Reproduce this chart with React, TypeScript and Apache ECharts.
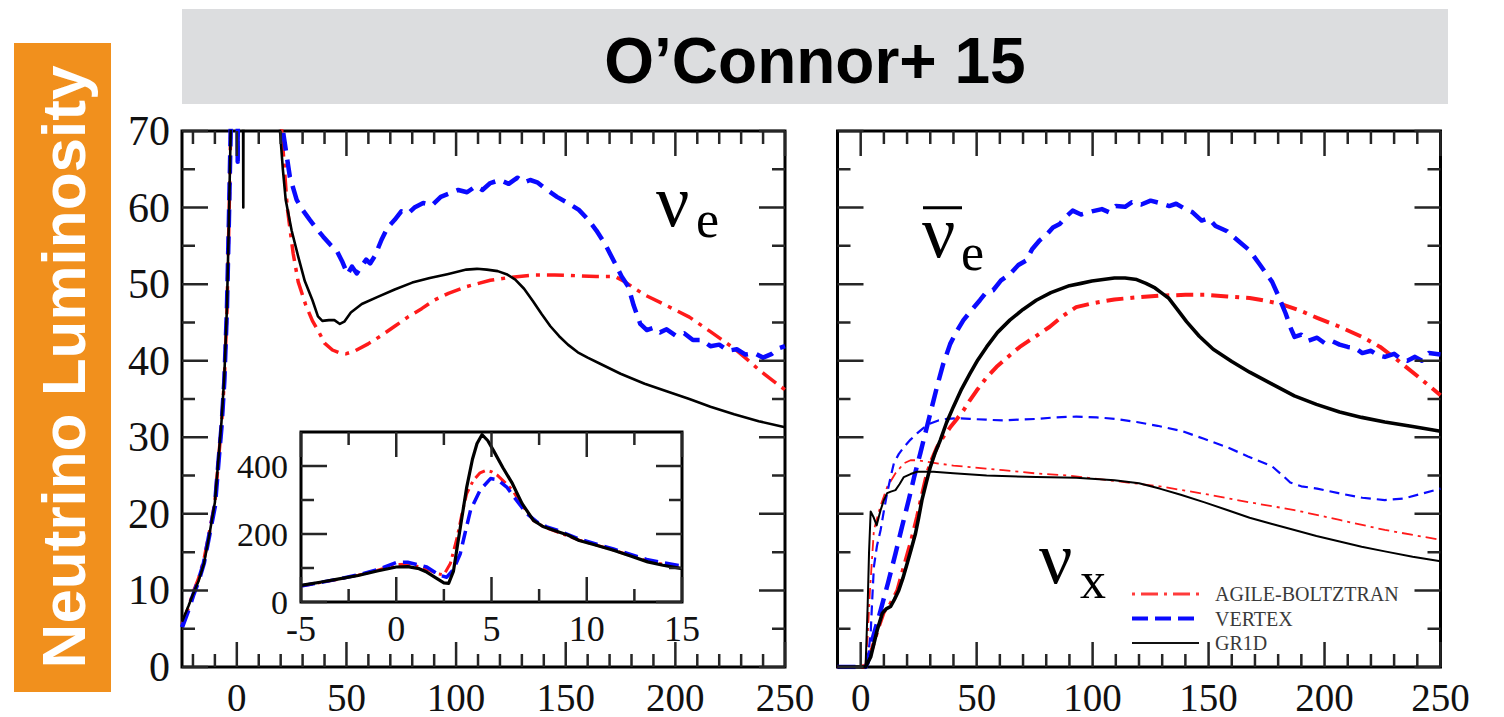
import React, { useEffect, useRef } from "react";
import * as echarts from "echarts";

const W = 1504;
const H = 717;

// ---------- tick labels ----------
const mainXLabels = [0, 50, 100, 150, 200, 250];
const mainYLabels = [0, 10, 20, 30, 40, 50, 60, 70];
const insetXLabels = [-5, 0, 5, 10, 15];
const insetYLabels = [0, 200, 400];
const insetYMinor = [100, 300];
const insetXMinor = [-2.5, 2.5, 7.5, 12.5];

const modelNames = ["AGILE-BOLTZTRAN", "VERTEX", "GR1D"];

// ---------- left panel: nu_e ----------
const nueGR1D = [[-25,5.9],[-22,8],[-20,9.5],[-17.5,11.2],[-15,13.5],[-12.5,17.3],[-10,21.5],[-8.3,27.5],[-7,32],[-5.7,38],[-4.5,47],[-3.6,58.5],[-2.8,70],[-2,100],[-1,150],[1.5,150],[2.6,100],[2.95,60],[3.2,100],[4,150],[17,150],[19,78],[19.7,70],[21,65],[22.3,61],[25,57],[28,53.6],[31,50.4],[34.5,47.9],[37,45.8],[39,45.2],[42,45.3],[44.5,45.3],[47,44.8],[49,45.1],[52,46.3],[57,47.4],[64,48.3],[72,49.3],[80,50.2],[88,50.8],[96,51.3],[104.7,51.9],[109.5,52],[114,51.9],[119,51.7],[123,51.3],[127,50.6],[131,49.4],[135,47.8],[139,46.1],[143,44.5],[147,43.2],[151,42.1],[155.5,41.1],[160,40.4],[165.7,39.6],[175,38.3],[186,37],[196,36],[206.4,35],[216,34],[226.8,33],[238,32.1],[250,31.3]];
const nueAGILE = [[-25,5.6],[-22,7.8],[-20,9.7],[-17.5,11.5],[-15,14],[-12.5,17.6],[-10,21.5],[-8.3,27.3],[-7,31.5],[-5.7,37.5],[-4.5,46.5],[-3.6,58],[-2.8,70],[-2,100],[-0.5,150],[0.2,100],[0.5,66.5],[0.8,100],[1.5,150],[17,150],[19.5,76],[20.5,69.9],[23,60],[25.7,54],[28,50.3],[31.4,47.3],[34.5,45.2],[37.5,43.7],[40,42.3],[43.6,41.4],[47,41],[49.7,40.9],[54,41.3],[59.9,42.2],[66,43.3],[72,44.5],[78,45.7],[84.3,46.8],[90,47.9],[96.5,48.8],[105,49.7],[115.6,50.5],[125,50.9],[136,51.2],[145,51.2],[155.5,51.1],[164,51],[172.5,51],[176.5,50.4],[180.6,49.6],[186,48.6],[196,47.2],[206.4,45.7],[216,43.8],[226.8,41.6],[233,40.1],[239,38.6],[244,37.5],[250,36.2]];
const nueVERTEX = [[-25,5.2],[-22,7.5],[-20,9.3],[-17.5,11.2],[-15,13.6],[-12.5,17.3],[-10,21],[-8.3,27],[-7,31.3],[-5.7,37.3],[-4.5,46.8],[-3.6,58.5],[-2.8,70],[-2,100],[-0.5,150],[0.1,100],[0.4,66],[0.7,100],[1.5,150],[18,150],[20.5,78],[21.2,69.7],[24.2,64],[27.3,61],[30,59.7],[33.3,58.4],[36.5,57.2],[39.4,56.2],[42.5,55.2],[45.5,54.4],[48,53],[50.5,51.3],[52.5,52.3],[54.7,51.4],[57,52.4],[59,53.2],[60.8,52.7],[63,53.7],[66,55.8],[68.8,57.4],[72,58.4],[75,59.5],[78,59.2],[81,60],[85,60.6],[89,60.3],[93,61.4],[97.4,61.9],[101,62.3],[105,62],[109,62.8],[112,62.3],[115.6,63.2],[120,63.6],[124,63.1],[128,63.9],[131,63.3],[133.8,63.6],[137,63.3],[141,62.4],[146,61.4],[151,60.6],[156,59.7],[160,58.5],[164,57],[168,55.2],[172.5,52.7],[175.5,51],[178.5,49.7],[181,47.2],[184,44.8],[187,44],[190,44.3],[193,43.7],[196,44.1],[200,43.3],[204,43.6],[208,42.7],[212,42.7],[216,41.9],[220,42.1],[224,41.3],[228,41.5],[232,40.8],[236,41],[240,40.4],[244,40.9],[247,41.6],[250,41.9]];

// ---------- right panel: anti nu_e (thick) ----------
const anueGR1D = [[-10,0],[0.7,0],[2.1,0],[4.3,1.3],[7.1,4.8],[9.3,7],[11,7.6],[12.9,7.9],[14.5,8.8],[16.4,10],[18.2,11.6],[20,13.5],[21.8,15.4],[23.6,17.4],[25,19.5],[26.4,21.8],[28.2,24],[30,26.1],[32,27.9],[34.3,29.6],[37,31.9],[40,34],[43.5,36.3],[47.1,38.3],[50.5,40.1],[54.3,41.8],[59,43.7],[64.3,45.3],[70,46.7],[75.7,47.9],[82,48.9],[90,49.8],[95,50.1],[99.7,50.4],[104.5,50.6],[109.4,50.8],[114,50.8],[119,50.6],[123,50.1],[126.9,49.5],[130,48.8],[132.7,48.2],[136.5,46.7],[140.5,45.1],[146,43.2],[152,41.5],[160,39.9],[167.7,38.5],[177,37],[187,35.4],[196.5,34.3],[206.5,33.3],[216,32.6],[226,32],[238,31.4],[250,30.8]];
const anueAGILE = [[-10,0],[1,0],[3,0.8],[5,2.5],[7.5,5],[10,7.2],[12.9,8.3],[15.8,10],[18.6,13.1],[21.5,16.2],[24.3,19.6],[26.5,22.6],[28.6,25.3],[30.8,27.2],[32.9,28.7],[35.7,30.1],[38.6,31.3],[41.5,32.4],[44.3,33.5],[47,34.8],[50,36.1],[54,37.7],[58.6,39.2],[63.5,40.5],[68.6,41.8],[75,43.1],[81.4,44.4],[87,45.8],[92.9,47],[100,47.5],[109.4,48],[120,48.3],[128.9,48.5],[140,48.6],[148.3,48.6],[158,48.4],[167.7,48.2],[175,47.8],[181.3,47.4],[189,46.6],[196.8,45.6],[206,44.5],[216.3,43.1],[224,41.8],[231.8,40],[240,38],[250,35.5]];
const anueVERTEX = [[-10,0],[2,0],[2.9,0.5],[5,3.5],[8.6,7.4],[11.8,11],[15,14.8],[17.8,18.3],[20.7,21.8],[23.2,25],[25.7,27.9],[28,30.7],[30,33.1],[32.9,36.6],[35.5,39.5],[38.6,42.2],[41.5,43.9],[44.3,45.3],[47.5,46.5],[51.4,47.9],[54,48.9],[57.1,49.2],[60.5,50.5],[64.3,51.3],[68,52.5],[71.4,53.1],[74,54.6],[77.1,55.7],[80,56.4],[82.9,57.4],[86,57.9],[88.5,58.8],[91.4,59.6],[95,59.1],[99.7,59.5],[104,59.8],[107,59.4],[110,60.2],[114,60.1],[117,60.7],[121,60.4],[125,60.9],[128.9,60.6],[133,60.2],[136,60.5],[140,59.8],[143,59.4],[147,58.3],[150,58.6],[153,57.6],[158,56.9],[163,55.6],[167.7,54.4],[172,52.6],[177.4,50.3],[180.5,48.2],[183.2,46.2],[185.5,44.2],[187.1,43.1],[190,43.4],[193,42.6],[196.8,43],[200,42.3],[203,42.6],[206.5,42.1],[210,41.8],[213,41.7],[216.3,41],[220,41.3],[223,40.7],[226,40.5],[230,40.9],[233,40.2],[235.7,40],[239,40.5],[242,40],[245,41],[250,40.8]];

// ---------- right panel: nu_x (thin) ----------
const nuxGR1D = [[-10,0],[2.1,0],[3,8],[3.6,15],[4.3,20.3],[5.5,19.6],[6.9,18.5],[7.8,19.6],[8.6,20.5],[10,21.8],[11.4,22.7],[13,22.9],[15,23.1],[16.8,23.9],[18.6,24.8],[21.5,25.2],[24.3,25.5],[31.4,25.5],[40,25.3],[54.3,25],[75.7,24.8],[92.9,24.7],[109.4,24.4],[120,24],[128.9,23.3],[138,22.5],[148.3,21.5],[158,20.5],[167.7,19.5],[177,18.7],[187,17.9],[196.5,17.1],[206.5,16.4],[216,15.7],[226,15.1],[238,14.4],[250,13.8]];
const nuxAGILE = [[-10,0],[2,0],[3,4],[4,10],[5.7,17.9],[8.5,21],[11.4,23.5],[15,25.3],[18.6,26.6],[21.5,27],[24.3,27],[28.5,26.8],[32.9,26.6],[40,26.3],[47.1,26.1],[54,25.9],[61.4,25.7],[75,25.3],[90,25],[109.4,24.3],[128.9,23.6],[148.3,22.6],[167.7,21.5],[187,20.5],[206.5,19.2],[226,17.9],[250,16.6]];
const nuxVERTEX = [[-10,0],[2,0],[3,1],[4.3,4.4],[5,9],[5.7,13.1],[7,15.8],[8.6,17.9],[10,20.4],[11.4,22.7],[12.9,24.8],[14.3,26.6],[16.4,27.8],[18.6,28.7],[21.5,29.7],[24.3,30.5],[27,31.2],[30,31.8],[33.5,32.2],[37.1,32.4],[42,32.5],[47.1,32.4],[54,32.3],[61.4,32.2],[68,32.3],[75.7,32.4],[84,32.6],[92.9,32.7],[101.7,32.6],[110,32.4],[119,32],[128,31.5],[138.6,30.8],[148,29.8],[158,28.7],[167,27.5],[177.4,26.2],[182,25],[185.2,24.1],[190,23.6],[196.8,23.3],[206,22.7],[216.3,22.1],[226,21.8],[234,22],[241.5,22.6],[250,23.3]];

// ---------- inset: nu_e around bounce ----------
const insetGR1D = [[-5,49],[-4,58],[-3,68],[-2,78],[-1,91],[0,103],[0.6,104],[1.2,98],[1.6,88],[2.1,70],[2.5,56],[2.75,55],[3.0,90],[3.2,162],[3.45,250],[3.7,338],[4.0,420],[4.24,466],[4.5,492],[4.8,475],[5.1,446],[5.6,395],[6.1,348],[6.6,290],[7.2,240],[7.7,222],[8.26,211],[9,197],[9.6,181],[10.5,167],[11.4,152],[12.3,135],[13.2,118],[14,108],[15,98]];
const insetAGILE = [[-5,47],[-4,57],[-3,67],[-2,79],[-1,93],[0,110],[0.6,111],[1.2,104],[1.7,95],[2.14,83],[2.5,80],[2.84,113],[3.2,191],[3.45,260],[3.7,319],[4.05,358],[4.4,380],[4.7,387],[5.0,383],[5.3,373],[5.7,352],[6.1,329],[6.6,285],[7.2,240],[7.7,222],[8.26,210],[9.6,182],[11.4,153],[13.2,120],[15,100]];
const insetVERTEX = [[-5,47],[-4,57],[-3,68],[-2,80],[-1,95],[0,116],[0.6,117],[1.6,103],[2.3,78],[2.65,73],[3.0,95],[3.36,142],[3.6,200],[3.9,270],[4.4,329],[4.95,363],[5.3,360],[5.8,338],[6.3,300],[6.85,260],[7.4,235],[7.9,221],[8.5,210],[9.6,185],[11.4,156],[13.2,124],[15,106]];

// ---------- styling ----------
const SERIF = "'Liberation Serif', 'DejaVu Serif', serif";
const SANS = "'Liberation Sans', Arial, Helvetica, sans-serif";
const RED = "#ff1a1a";
const BLUE = "#0a0aff";
const BLACK = "#000000";
const DASH_BLUE = [18, 9];
const DASH_RED = [17, 7, 4, 7];
const DASH_BLUE_THIN = [10, 6];
const DASH_RED_THIN = [11, 5, 3, 5];
const MAJOR_LEN = 25;
const MINOR_LEN = 13;

function range(from: number, to: number, step: number, skip: number[]) {
  const out: number[] = [];
  for (let v = from; v <= to + 1e-9; v += step) {
    const r = Math.round(v * 1000) / 1000;
    if (!skip.includes(r)) out.push(r);
  }
  return out;
}

type Rect = { left: number; top: number; width: number; height: number };

// Frame tick marks on all four sides, drawn as a broken line series on the panel's axes.
// Tick length is given in pixels and converted with the axis scale (units per pixel).
function tickSeries(ai: number, rect: Rect, xr: number[], yr: number[], xMajor: number[], xMinor: number[], yMajor: number[], yMinor: number[]) {
  const ux = (xr[1] - xr[0]) / rect.width;
  const uy = (yr[1] - yr[0]) / rect.height;
  const data: any[] = [];
  const seg = (a: number[], b: number[]) => {
    data.push(a, b, "-");
  };
  const xt = (v: number, len: number) => {
    seg([v, yr[0]], [v, yr[0] + len * uy]);
    seg([v, yr[1]], [v, yr[1] - len * uy]);
  };
  const yt = (v: number, len: number) => {
    seg([xr[0], v], [xr[0] + len * ux, v]);
    seg([xr[1], v], [xr[1] - len * ux, v]);
  };
  xMajor.forEach((v) => xt(v, MAJOR_LEN));
  xMinor.forEach((v) => xt(v, MINOR_LEN));
  yMajor.forEach((v) => yt(v, MAJOR_LEN + 1));
  yMinor.forEach((v) => yt(v, MINOR_LEN));
  return {
    type: "line",
    name: "frame-ticks",
    data,
    xAxisIndex: ai,
    yAxisIndex: ai,
    symbol: "none",
    showSymbol: false,
    connectNulls: false,
    clip: false,
    silent: true,
    z: 8,
    lineStyle: { color: "#262626", width: 2.5, cap: "butt" },
    itemStyle: { color: "#262626" },
  };
}

function panel(
  rect: Rect,
  gi: number,
  xr: [number, number],
  yr: [number, number],
  xLabels: number[],
  yLabels: number[],
  opts: { showX: boolean; showY: boolean; xFont: number; yFont: number; xMargin: number; yMargin: number; xLineHeight: number; white?: boolean }
) {
  const grid = { ...rect, show: true, borderColor: "#000", borderWidth: 3, backgroundColor: opts.white ? "#fff" : "transparent", containLabel: false, outerBoundsMode: "none" };
  const xAxis = {
    type: "value",
    gridIndex: gi,
    position: "bottom",
    min: xr[0],
    max: xr[1],
    axisLine: { show: false, onZero: false },
    splitLine: { show: false },
    axisTick: { show: false },
    minorTick: { show: false },
    axisLabel: opts.showX
      ? { show: true, customValues: xLabels, margin: opts.xMargin, fontFamily: SERIF, fontSize: opts.xFont, color: "#111", lineHeight: opts.xLineHeight }
      : { show: false },
  };
  const yAxis = {
    type: "value",
    gridIndex: gi,
    position: "left",
    min: yr[0],
    max: yr[1],
    axisLine: { show: false, onZero: false },
    splitLine: { show: false },
    axisTick: { show: false },
    minorTick: { show: false },
    axisLabel: opts.showY
      ? { show: true, customValues: yLabels, margin: opts.yMargin, fontFamily: SERIF, fontSize: opts.yFont, color: "#111" }
      : { show: false },
  };
  return { grid, xAxis, yAxis };
}

function line(name: string, data: number[][], ai: number, color: string, width: number, dash: any, z = 2) {
  return {
    type: "line",
    name,
    data,
    xAxisIndex: ai,
    yAxisIndex: ai,
    symbol: "none",
    showSymbol: false,
    smooth: false,
    clip: true,
    silent: true,
    z,
    lineStyle: { color, width, type: dash, cap: "butt", join: "round" },
    itemStyle: { color },
  };
}

function buildOption() {
  const leftXR: [number, number] = [-25, 250];
  const rightXR: [number, number] = [-10, 250];
  const mainYR: [number, number] = [0, 70];
  const insetXR: [number, number] = [-5, 15];
  const insetYR: [number, number] = [0, 500];
  const leftRect = { left: 182, top: 131, width: 603, height: 536 };
  const rightRect = { left: 837.5, top: 131, width: 603, height: 536 };
  const insetRect = { left: 301, top: 432, width: 381, height: 170 };

  const leftP = panel(leftRect, 0, leftXR, mainYR, mainXLabels, mainYLabels,
    { showX: true, showY: true, xFont: 39, yFont: 42, xMargin: 15, yMargin: 12, xLineHeight: 30 });
  const rightP = panel(rightRect, 1, rightXR, mainYR, mainXLabels, mainYLabels,
    { showX: true, showY: false, xFont: 39, yFont: 42, xMargin: 15, yMargin: 12, xLineHeight: 30 });
  const insetP = panel(insetRect, 2, insetXR, insetYR, insetXLabels, insetYLabels,
    { showX: true, showY: true, xFont: 36, yFont: 34, xMargin: 9, yMargin: 13, xLineHeight: 36, white: true });

  const series: any[] = [
    tickSeries(0, leftRect, leftXR, mainYR, mainXLabels, range(-20, 250, 10, mainXLabels), mainYLabels, range(5, 65, 10, [])),
    tickSeries(1, rightRect, rightXR, mainYR, mainXLabels, range(10, 250, 10, mainXLabels), mainYLabels, range(5, 65, 10, [])),
    tickSeries(2, insetRect, insetXR, insetYR, insetXLabels, insetXMinor, insetYLabels, insetYMinor),
    // left panel
    line(modelNames[0], nueAGILE, 0, RED, 3.5, DASH_RED),
    line(modelNames[1], nueVERTEX, 0, BLUE, 4.5, DASH_BLUE),
    line(modelNames[2], nueGR1D, 0, BLACK, 2.6, "solid", 3),
    // right panel thick (anti nu_e)
    line(modelNames[0], anueAGILE, 1, RED, 4, DASH_RED),
    line(modelNames[1], anueVERTEX, 1, BLUE, 4.5, DASH_BLUE),
    line(modelNames[2], anueGR1D, 1, BLACK, 3.6, "solid", 3),
    // right panel thin (nu_x)
    line(modelNames[0], nuxAGILE, 1, RED, 1.8, DASH_RED_THIN),
    line(modelNames[1], nuxVERTEX, 1, BLUE, 2.2, DASH_BLUE_THIN),
    line(modelNames[2], nuxGR1D, 1, BLACK, 2, "solid", 3),
    // inset
    line(modelNames[0], insetAGILE, 2, RED, 3, [12, 5, 3, 5], 5),
    line(modelNames[1], insetVERTEX, 2, BLUE, 3.5, [14, 7], 5),
    line(modelNames[2], insetGR1D, 2, BLACK, 3.2, "solid", 6),
  ];

  const nuFont = 74;
  const subFont = 52;

  return {
    animation: false,
    backgroundColor: "#ffffff",
    grid: [leftP.grid, rightP.grid, insetP.grid],
    xAxis: [leftP.xAxis, rightP.xAxis, insetP.xAxis],
    yAxis: [leftP.yAxis, rightP.yAxis, insetP.yAxis],
    legend: {
      show: true,
      orient: "vertical",
      left: 1130,
      top: 584,
      itemWidth: 67,
      itemHeight: 14,
      itemGap: 4.5,
      selectedMode: false,
      padding: 0,
      textStyle: { fontFamily: SERIF, fontSize: 20, color: "#3a3a3a", padding: [0, 0, 0, 11], lineHeight: 16 },
      data: [
        { name: modelNames[0], itemStyle: { opacity: 0 }, lineStyle: { color: "#ff3b3b", width: 3, type: [17, 6, 3, 6], dashOffset: 23 } },
        { name: modelNames[1], itemStyle: { opacity: 0 }, lineStyle: { color: BLUE, width: 4, type: [16, 7] } },
        { name: modelNames[2], itemStyle: { opacity: 0 }, lineStyle: { color: "#111", width: 2, type: "solid" } },
      ],
    },
    graphic: [
      { type: "rect", shape: { x: 14, y: 43, width: 97, height: 649 }, style: { fill: "#F1901D" }, z: 0, silent: true },
      { type: "rect", shape: { x: 182, y: 9, width: 1266, height: 95 }, style: { fill: "#DCDDDF" }, z: 0, silent: true },
      {
        type: "text",
        x: 815,
        y: 60.5,
        style: { text: "O’Connor+ 15", fontFamily: SANS, fontWeight: "bold", fontSize: 64, fill: "#000", align: "center", verticalAlign: "middle" },
        z: 10,
        silent: true,
      },
      {
        type: "text",
        x: 63.5,
        y: 367,
        rotation: Math.PI / 2,
        style: { text: "Neutrino Luminosity", fontFamily: SANS, fontWeight: "bold", fontSize: 62, fill: "#ffffff", align: "center", verticalAlign: "middle" },
        z: 10,
        silent: true,
      },
      // nu_e label (left)
      { type: "text", x: 656, y: 200.7, style: { text: "ν", fontFamily: SERIF, fontSize: nuFont, fill: "#000", align: "left", verticalAlign: "middle" }, z: 10, silent: true },
      { type: "text", x: 696, y: 219.5, style: { text: "e", fontFamily: SERIF, fontSize: subFont, fill: "#000", align: "left", verticalAlign: "middle" }, z: 10, silent: true },
      // anti nu_e label (right)
      { type: "line", shape: { x1: 923, y1: 207.7, x2: 962, y2: 207.7 }, style: { stroke: "#000", lineWidth: 3 }, z: 10, silent: true },
      { type: "text", x: 922, y: 232.4, style: { text: "ν", fontFamily: SERIF, fontSize: nuFont, fill: "#000", align: "left", verticalAlign: "middle" }, z: 10, silent: true },
      { type: "text", x: 961, y: 252.5, style: { text: "e", fontFamily: SERIF, fontSize: subFont, fill: "#000", align: "left", verticalAlign: "middle" }, z: 10, silent: true },
      // nu_x label
      { type: "text", x: 1039, y: 557.7, style: { text: "ν", fontFamily: SERIF, fontSize: nuFont, fill: "#000", align: "left", verticalAlign: "middle" }, z: 10, silent: true },
      { type: "text", x: 1080, y: 580.5, style: { text: "x", fontFamily: SERIF, fontSize: subFont, fill: "#000", align: "left", verticalAlign: "middle" }, z: 10, silent: true },
    ],
    series,
  };
}

export default function App() {
  const ref = useRef<HTMLDivElement>(null);
  useEffect(() => {
    document.body.style.margin = "0";
    const chart = echarts.init(ref.current as HTMLDivElement, undefined, { renderer: "svg", width: W, height: H });
    chart.setOption(buildOption() as any);
    return () => {
      chart.dispose();
    };
  }, []);
  return <div ref={ref} style={{ width: W, height: H, background: "#fff" }} />;
}
